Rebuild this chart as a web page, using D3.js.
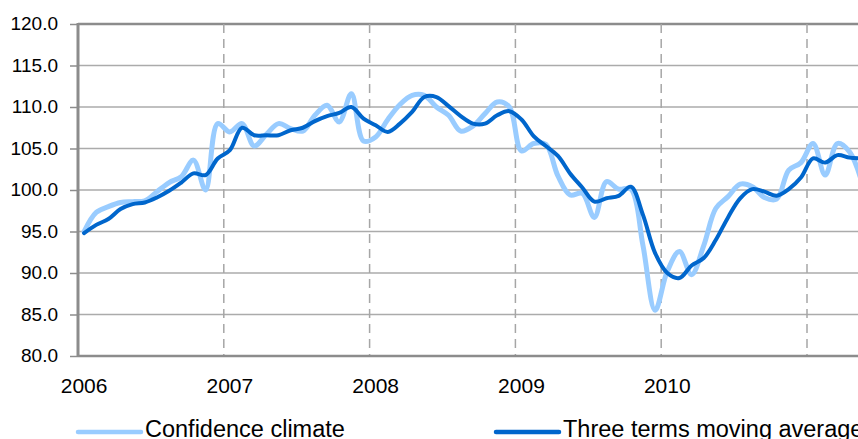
<!DOCTYPE html>
<html>
<head>
<meta charset="utf-8">
<script src="https://cdn.jsdelivr.net/npm/d3@7"></script>
<style>
  body { margin: 0; background: #fff; }
  svg { display: block; font-family: "Liberation Sans", Arial, sans-serif; }
</style>
</head>
<body>
<svg id="chart" width="858" height="439"></svg>
<script>
// monthly values, Jan 2006 onwards
let years = ["2006", "2007", "2008", "2009", "2010"]
let yTicks = [80, 85, 90, 95, 100, 105, 110, 115, 120]

let confidence = [95.0, 97.3, 98.0, 98.5, 98.6, 98.7, 99.8, 100.9, 101.6, 103.6, 100.0, 108.0,
  107.0, 108.0, 105.3, 106.7, 108.0, 107.4, 107.1, 109.0, 110.2, 108.2, 111.6, 105.9,
  106.4, 108.5, 110.3, 111.4, 111.4, 110.0, 109.0, 107.1, 107.7, 109.2, 110.6, 110.0,
  104.7, 105.6, 105.5, 101.7, 99.4, 99.6, 96.7, 101.0, 100.1, 100.1, 93.3, 85.5,
  90.2, 92.6, 89.8, 93.3, 97.8, 99.2, 100.7, 100.4, 99.1, 98.9, 102.4, 103.3,
  105.6, 101.8, 105.6, 104.6, 101.0]

let movingAvg = [94.8, 95.8, 96.5, 97.7, 98.3, 98.5, 99.1, 99.9, 100.9, 102.0, 101.8, 103.8,
  104.8, 107.5, 106.6, 106.6, 106.6, 107.2, 107.5, 108.3, 108.9, 109.3, 110.0, 108.6,
  107.8, 107.0, 108.0, 109.4, 111.2, 111.2, 110.1, 108.9, 108.0, 108.0, 109.0, 109.5,
  108.5, 106.5, 105.3, 104.1, 102.0, 100.3, 98.6, 99.0, 99.3, 100.4, 97.0, 92.4,
  90.0, 89.4, 90.9, 91.8, 94.0, 96.7, 99.0, 100.1, 99.8, 99.3, 100.1, 101.5,
  103.8, 103.3, 104.2, 103.9, 103.8]

let svg = d3.select("#chart")

let plotLeft = 78, plotTop = 24, plotBottom = 356

let x = d3.scaleLinear().domain([0, 60]).range([plotLeft, 807])
let y = d3.scaleLinear().domain([80, 120]).range([plotBottom, plotTop])

// horizontal grid
svg.append("g")
  .selectAll("line")
  .data(yTicks)
  .enter()
  .append("line")
  .attr("x1", plotLeft).attr("x2", 858)
  .attr("y1", d => y(d)).attr("y2", d => y(d))
  .attr("stroke", d => d === 120 ? "#8c8c8c" : "#ababab")
  .attr("stroke-width", d => d === 120 ? 2.5 : 1.5)

// vertical dashed year lines
let yearLines = d3.range(12, 72, 12)
svg.append("g")
  .selectAll("line")
  .data(yearLines)
  .enter()
  .append("line")
  .attr("x1", d => x(d)).attr("x2", d => x(d))
  .attr("y1", plotTop).attr("y2", plotBottom)
  .attr("stroke", "#a6a6a6")
  .attr("stroke-width", 1.5)
  .attr("stroke-dasharray", "9,6")

// y axis
let yAxis = d3.axisLeft(y)
  .tickValues(yTicks)
  .tickFormat(d3.format(".1f"))
  .tickSize(8)
  .tickPadding(12)
let ya = svg.append("g")
  .attr("transform", `translate(${plotLeft},0)`)
  .call(yAxis)
ya.select(".domain").remove()
ya.selectAll(".tick line").attr("stroke", "#8c8c8c").attr("stroke-width", 1.5)
ya.selectAll("text")
  .attr("font-size", 19)
  .attr("font-family", "Liberation Sans, Arial, sans-serif")
  .attr("fill", "#000")
  .attr("dy", "0.3em")

svg.append("line")
  .attr("x1", plotLeft).attr("x2", plotLeft)
  .attr("y1", plotTop - 1).attr("y2", plotBottom + 1)
  .attr("stroke", "#8c8c8c").attr("stroke-width", 3)
svg.append("line")
  .attr("x1", plotLeft).attr("x2", 858)
  .attr("y1", plotBottom).attr("y2", plotBottom)
  .attr("stroke", "#8c8c8c").attr("stroke-width", 2.5)

// x labels at January of each year
svg.append("g")
  .selectAll("text")
  .data(years)
  .enter()
  .append("text")
  .attr("x", (d, i) => x(i * 12 + 0.5))
  .attr("y", 393)
  .attr("text-anchor", "middle")
  .attr("font-size", 21)
  .text(d => d)

// series, smoothed like the original
let line = d3.line()
  .x((d, i) => x(i + 0.5))
  .y(d => y(d))
  .curve(d3.curveCatmullRom.alpha(0.5))

svg.append("path")
  .datum(confidence)
  .attr("d", line)
  .attr("fill", "none")
  .attr("stroke", "#99ccff")
  .attr("stroke-width", 5)
  .attr("stroke-linejoin", "round")
  .attr("stroke-linecap", "round")

svg.append("path")
  .datum(movingAvg)
  .attr("d", line)
  .attr("fill", "none")
  .attr("stroke", "#0066cc")
  .attr("stroke-width", 4)
  .attr("stroke-linejoin", "round")
  .attr("stroke-linecap", "round")

// legend
let legend = [
  { name: "Confidence climate", color: "#99ccff", x: 78 },
  { name: "Three terms moving average", color: "#0066cc", x: 496 }
]
let lg = svg.append("g")
  .selectAll("g")
  .data(legend)
  .enter()
  .append("g")
lg.append("line")
  .attr("x1", d => d.x).attr("x2", d => d.x + 63)
  .attr("y1", 432).attr("y2", 432)
  .attr("stroke", d => d.color)
  .attr("stroke-width", 4.5)
  .attr("stroke-linecap", "round")
lg.append("text")
  .attr("x", d => d.x + 67)
  .attr("y", 437)
  .attr("font-size", 23.5)
  .text(d => d.name)
</script>
</body>
</html>
